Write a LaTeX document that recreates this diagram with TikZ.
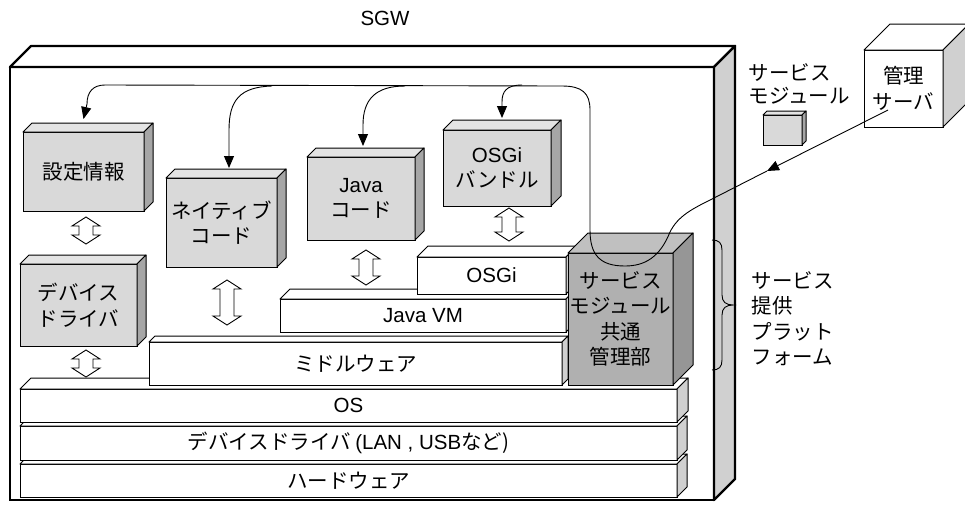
\documentclass[tikz,border=0pt]{standalone}
\usepackage{fontspec}
\setmainfont{Liberation Sans}
\newfontfamily\jp{Noto Sans CJK JP}
\newfontfamily\lat{Liberation Sans}
\usetikzlibrary{arrows.meta}

\definecolor{boxfront}{HTML}{D9D9D9}
\definecolor{boxside}{HTML}{A6A6A6}
\definecolor{boxtop}{HTML}{E4E4E4}
\definecolor{mgrfront}{HTML}{B0B0B0}
\definecolor{mgrside}{HTML}{969696}
\definecolor{mgrtop}{HTML}{C0C0C0}
\definecolor{wallside}{HTML}{D0D0D0}

% top and right faces of a box whose front face is the node #1
\newcommand\faces[5]{%
  \filldraw[fill=#4,line width=#5,line join=round]
    (#1.north west) -- ++(#2,-#2) -- ([xshift=#2pt,yshift=#2pt]#1.north east) -- (#1.north east) -- cycle;
  \filldraw[fill=#3,line width=#5,line join=round]
    (#1.north east) -- ++(#2,-#2) -- ([xshift=#2pt,yshift=#2pt]#1.south east) -- (#1.south east) -- cycle;
}
% hollow up-down arrow
\newcommand\updown[3]{%
  \draw[line width=0.9pt,fill=white,line join=miter]
    (#1,#2) -- ++(14,9) -- ++(-7,0) -- (#1+7,#3-9) -- ++(7,0) -- (#1,#3)
    -- ++(-14,-9) -- ++(7,0) -- (#1-7,#2+9) -- ++(-7,0) -- cycle;
}

\tikzset{
  jptext/.style={font=\jp\fontsize{20.5}{25.5}\selectfont},
  front/.style={draw,line width=1pt,inner sep=0pt,outer sep=0pt,align=center,jptext},
  graybox/.style={front,fill=boxfront},
  layer/.style={front,fill=white},
  link/.style={line width=0.9pt},
  tip/.style={-{Triangle[width=10pt,length=12pt]}}
}

\begin{document}
\begin{tikzpicture}[x=1pt,y=-1pt]
\clip (0,0) rectangle (965,504);

% gateway housing
\node[front,fill=white,line width=2.4pt,minimum width=704pt,minimum height=433pt] (sgw) at (362,283.5) {};
\faces{sgw}{21}{wallside}{white}{2.4pt}
\node[font=\lat\fontsize{20.5}{24}\selectfont] (sgwlabel) at (385,18) {SGW};

% platform layers
\node[layer,minimum width=657pt,minimum height=33pt] (hw) at (348.5,480.5) {ハードウェア};
\faces{hw}{10}{wallside}{white}{1pt}
\node[layer,minimum width=657pt,minimum height=34pt] (dd) at (348.5,443) {デバイスドライバ {\lat (LAN , USB}など)};
\faces{dd}{10}{wallside}{white}{1pt}
\node[layer,minimum width=657pt,minimum height=33pt] (os) at (348.5,405.5) {\lat OS};
\faces{os}{11}{wallside}{white}{1pt}
\node[layer,minimum width=413pt,minimum height=43pt] (mw) at (355.5,363.5) {ミドルウェア};
\faces{mw}{6}{wallside}{white}{1pt}
\node[layer,minimum width=286pt,minimum height=33pt] (jvm) at (423,315.5) {\lat Java VM};
\faces{jvm}{10}{wallside}{white}{1pt}
\node[layer,minimum width=149pt,minimum height=37pt] (osgi) at (491.5,275.5) {\lat OSGi};
\faces{osgi}{11}{wallside}{white}{1pt}

% service module common manager
\node[front,fill=mgrfront,minimum width=105pt,minimum height=132pt] (mgr) at (620.5,319)
  {サービス\\モジュール\\共通\\管理部};
\faces{mgr}{20}{mgrside}{mgrtop}{1pt}

% software components
\node[graybox,minimum width=121pt,minimum height=79pt] (settei) at (83.5,171.5) {設定情報};
\faces{settei}{9}{boxside}{boxtop}{1pt}
\node[graybox,minimum width=111pt,minimum height=89pt] (native) at (221.5,222.5) {ネイティブ\\コード};
\faces{native}{9}{boxside}{boxtop}{1pt}
\node[graybox,minimum width=108pt,minimum height=83pt] (java) at (361,198.5) {{\lat Java}\\コード};
\faces{java}{9}{boxside}{boxtop}{1pt}
\node[graybox,minimum width=108pt,minimum height=76pt] (bundle) at (497,168) {{\lat OSGi}\\バンドル};
\faces{bundle}{10}{boxside}{boxtop}{1pt}
\node[graybox,minimum width=117pt,minimum height=82pt] (drv) at (78.5,305) {デバイス\\ドライバ};
\faces{drv}{9}{boxside}{boxtop}{1pt}

% interfaces between components
\updown{86}{217}{244}
\updown{86}{350}{377}
\updown{227}{280}{325}
\updown{366}{250}{285}
\updown{509}{208}{241}

% outside the gateway
\node[graybox,minimum width=39pt,minimum height=30pt] (module) at (782.5,130) {};
\faces{module}{4}{boxside}{boxtop}{1pt}
\node[anchor=west,align=left,jptext,font=\jp\fontsize{20.5}{23}\selectfont] (modlabel) at (745,83.5) {サービス\\モジュール};
\node[front,fill=white,minimum width=79pt,minimum height=77pt] (srv) at (903.5,88.5) {管理\\サーバ};
\faces{srv}{26}{wallside}{white}{1pt}

% platform brace and label
\draw[link] (712,240) .. controls (719,240) and (722,243) .. (722,250) -- (722,295)
  .. controls (722,302) and (726,305) .. (733,305)
  .. controls (726,305) and (722,308) .. (722,315) -- (722,360)
  .. controls (722,367) and (719,370) .. (712,370);
\node[anchor=west,align=left,jptext] (platlabel) at (748,318.5) {サービス\\提供\\プラット\\フォーム};

% delivery path from the management server
\coordinate (srvout) at (888,110);
\coordinate (mid) at (767,171);
\draw[link,tip] (srvout) -- (mid);
\draw[link,tip] (mid) -- (712,199) .. controls (692,209) and (678,216) .. (670,232)
  .. controls (660,257) and (645,266) .. (625,266)
  .. controls (600,266) and (590,255) .. (590,230) -- (590,110)
  .. controls (590,93) and (582,86) .. (562,86) -- (105,85)
  .. controls (93,85) and (87,92) .. (87,104) -- ([yshift=13pt]settei.north);
\draw[link,tip] (272,86) .. controls (240,87) and (229,100) .. (229,130) -- ([xshift=7.5pt,yshift=10pt]native.north);
\draw[link,tip] (405,86) .. controls (375,86) and (363,100) .. (363,125) -- ([xshift=2pt,yshift=11pt]java.north);
\draw[link,tip] (522,85) .. controls (506,85) and (502,92) .. (502,102) -- ([xshift=5pt,yshift=12pt]bundle.north);
\end{tikzpicture}
\end{document}
